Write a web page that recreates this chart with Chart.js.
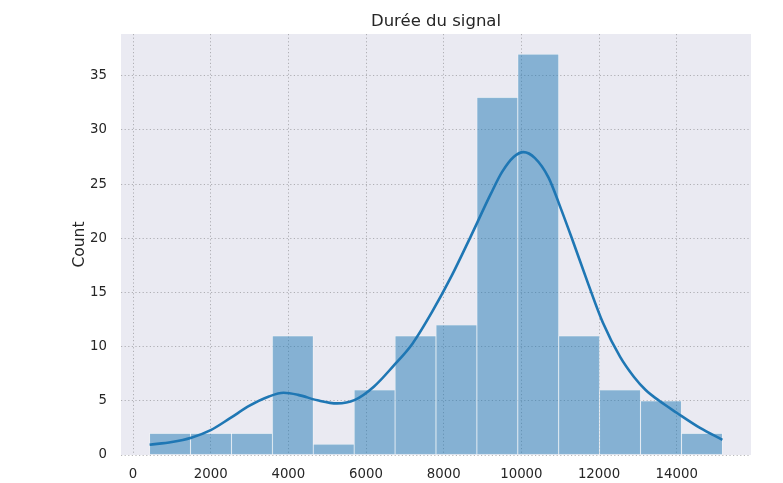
<!DOCTYPE html>
<html>
<head>
<meta charset="utf-8">
<script src="https://cdn.jsdelivr.net/npm/chart.js@4"></script>
<style>
  html, body { margin: 0; padding: 0; background: #ffffff; }
  #wrap { width: 783px; height: 483px; }
</style>
</head>
<body>
<div id="wrap"><canvas id="chart" width="783" height="483"></canvas></div>
<script>
// Histogram of signal durations with a KDE overlay
const binEdges = [427, 1480, 2534, 3587, 4641, 5694, 6748, 7801, 8855, 9908, 10962, 12015, 13069, 14122, 15176];
const counts   = [2, 2, 2, 11, 1, 6, 11, 12, 33, 37, 11, 6, 5, 2];

// Density curve, scaled to counts
const kdeX = [427, 1000, 1500, 2000, 2500, 3000, 3500, 3877, 4250, 4750, 5250, 5700, 6200, 6700, 7200, 7700, 8200, 8700, 9200, 9500, 9800, 10055, 10350, 10700, 11000, 11300, 11700, 12100, 12543, 12900, 13200, 13550, 14000, 14600, 15176];
const kdeY = [0.95, 1.2, 1.6, 2.3, 3.4, 4.55, 5.4, 5.74, 5.55, 5.05, 4.76, 5.06, 6.3, 8.2, 10.3, 13.2, 16.5, 20.2, 24.0, 26.1, 27.5, 27.95, 27.4, 25.6, 22.9, 20.0, 16.0, 12.2, 9.05, 7.2, 6.0, 5.0, 3.9, 2.5, 1.4];

const xTicks = [0, 2000, 4000, 6000, 8000, 10000, 12000, 14000];
const yTicks = [0, 5, 10, 15, 20, 25, 30, 35];

const titleText = 'Durée du signal';
const yLabel = 'Count';

const X_MIN = -310, X_MAX = 15913;
const Y_MAX = 38.85;

const barPoints = counts.map((c, i) => ({ x: (binEdges[i] + binEdges[i + 1]) / 2, y: c }));
const kdePoints = kdeX.map((x, i) => ({ x: x, y: kdeY[i] }));

const FONT = "'DejaVu Sans', sans-serif";
const TEXT = '#262626';
const DOTS = [1.2, 2.4];

const areaBackground = {
  id: 'areaBackground',
  beforeDraw(chart) {
    const { ctx, chartArea: a } = chart;
    ctx.save();
    ctx.fillStyle = '#eaeaf2';
    ctx.fillRect(a.left, a.top, a.right - a.left, a.bottom - a.top);
    ctx.restore();
  }
};

const gridStyle = {
  color: 'rgba(125,125,130,0.55)',
  lineWidth: 1,
  drawTicks: false,
  offset: false
};

new Chart(document.getElementById('chart'), {
  type: 'bar',
  data: {
    datasets: [
      {
        type: 'line',
        data: kdePoints,
        borderColor: '#1f77b4',
        borderWidth: 2.6,
        pointRadius: 0,
        fill: false,
        cubicInterpolationMode: 'monotone',
        xAxisID: 'x',
        yAxisID: 'y',
        order: 0
      },
      {
        type: 'bar',
        data: barPoints,
        backgroundColor: 'rgba(31,119,180,0.5)',
        borderColor: 'rgba(255,255,255,0.55)',
        borderWidth: 0.7,
        borderSkipped: false,
        barPercentage: 1,
        categoryPercentage: 1,
        xAxisID: 'x',
        yAxisID: 'y',
        order: 1
      }
    ]
  },
  plugins: [areaBackground],
  options: {
    responsive: false,
    animation: false,
    events: [],
    layout: { padding: { left: 0, right: 32, top: 0, bottom: 0 } },
    plugins: {
      legend: { display: false },
      tooltip: { enabled: false },
      title: { display: false }
    },
    scales: {
      x: {
        type: 'linear',
        position: 'bottom',
        min: X_MIN,
        max: X_MAX,
        offset: false,
        border: { display: false, dash: DOTS },
        grid: gridStyle,
        ticks: {
          color: TEXT,
          font: { family: FONT, size: 13.3 },
          padding: 12,
          maxRotation: 0,
          autoSkip: false,
          callback: v => String(v)
        },
        afterBuildTicks(scale) { scale.ticks = xTicks.map(v => ({ value: v })); },
        afterFit(scale) { scale.height = 28; }
      },
      xTop: {
        type: 'linear',
        position: 'top',
        min: X_MIN,
        max: X_MAX,
        offset: false,
        border: { display: false },
        grid: { display: false, drawTicks: false },
        ticks: { display: false },
        title: {
          display: true,
          text: titleText,
          color: TEXT,
          font: { family: FONT, size: 16.5 },
          padding: { top: 12, bottom: 0 }
        },
        afterFit(scale) { scale.height = 34; }
      },
      y: {
        type: 'linear',
        min: 0,
        max: Y_MAX,
        border: { display: false, dash: DOTS },
        grid: gridStyle,
        ticks: {
          color: TEXT,
          font: { family: FONT, size: 13.3 },
          padding: 14,
          callback: v => String(v)
        },
        title: {
          display: true,
          text: yLabel,
          color: TEXT,
          font: { family: FONT, size: 15.5 },
          padding: { top: 71, bottom: 0 }
        },
        afterBuildTicks(scale) { scale.ticks = yTicks.map(v => ({ value: v })); },
        afterFit(scale) { scale.width = 121; }
      }
    }
  }
});
</script>
</body>
</html>
